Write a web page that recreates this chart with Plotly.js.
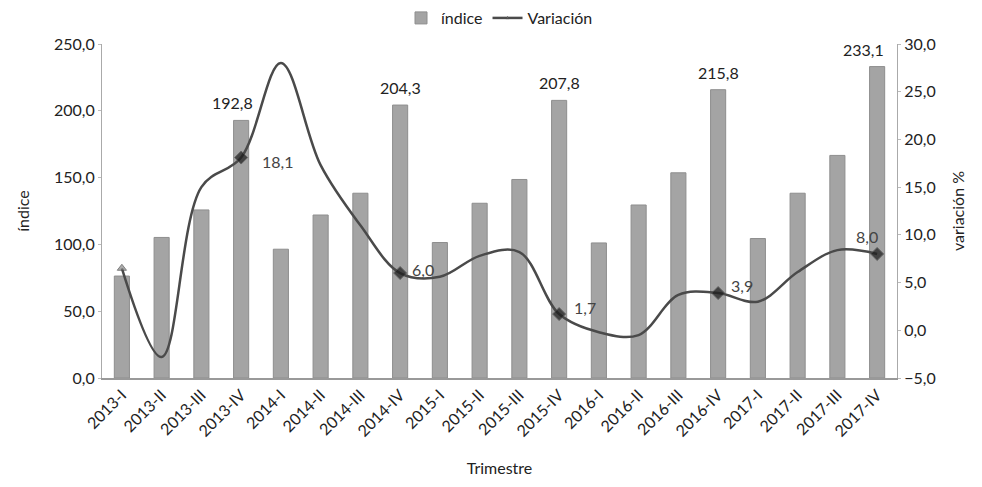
<!DOCTYPE html>
<html><head><meta charset="utf-8">
<script src="https://cdn.plot.ly/plotly-3.0.1.min.js"></script>
<style>html,body{margin:0;padding:0;background:#fff}#c{width:982px;height:487px}</style>
</head><body><div id="c"></div>
<script>
const trimestres = ["2013-I","2013-II","2013-III","2013-IV","2014-I","2014-II","2014-III","2014-IV","2015-I","2015-II","2015-III","2015-IV","2016-I","2016-II","2016-III","2016-IV","2017-I","2017-II","2017-III","2017-IV"];
const indice = [76.3,105.2,125.8,192.8,96.4,122.0,138.3,204.3,101.4,130.8,148.6,207.8,101.1,129.5,153.6,215.8,104.4,138.3,166.6,233.1];
const variacion = [6.5,-2.8,15.0,18.1,28.0,17.3,11.0,6.0,5.6,7.8,8.2,1.7,-0.2,-0.5,3.7,3.9,3.0,6.1,8.4,8.0];
const labelledIdx = [3,7,11,15,19];

const fontFam = "Lato, 'Open Sans', sans-serif";
const txt = '#222';

const markerSymbols = variacion.map((v,i)=> i===0 ? 'triangle-up' : (labelledIdx.includes(i) ? 'diamond' : 'circle'));
const markerSizes = variacion.map((v,i)=> i===0 ? 8 : (labelledIdx.includes(i) ? 10 : 0));
const markerColors = variacion.map((v,i)=> i===0 ? '#888' : '#1a1a1a');

const fmt = v => v.toFixed(1).replace('.', ',');

const barShift = {3:[-9,6],7:[0,6],11:[0,6],15:[0,6],19:[-14,6]};
const lineShift = {3:[36,-4],7:[23,4],11:[26,7],15:[24,8],19:[-10,17]};

const annotations = [];
labelledIdx.forEach(i=>{
  annotations.push({x:trimestres[i], y:indice[i], xref:'x', yref:'y', text:fmt(indice[i]), showarrow:false,
    yanchor:'bottom', xshift:barShift[i][0], yshift:barShift[i][1], font:{family:fontFam,size:16,color:txt}});
  annotations.push({x:trimestres[i], y:variacion[i], xref:'x', yref:'y2', text:fmt(variacion[i]), showarrow:false,
    xshift:lineShift[i][0], yshift:lineShift[i][1], font:{family:fontFam,size:16,color:'#444'}});
});

const data = [
  {type:'bar', name:'índice', x:trimestres, y:indice, yaxis:'y',
   marker:{color:'#a4a4a4', line:{color:'#8e8e8e', width:1}}, width:0.38, hoverinfo:'skip'},
  {type:'scatter', mode:'lines+markers', name:'Variación', x:trimestres, y:variacion, yaxis:'y2',
   line:{color:'#4a4a4a', width:2.5, shape:'spline', smoothing:1},
   marker:{symbol:markerSymbols, size:markerSizes, color:markerColors}}
];

const layout = {
  width:982, height:487,
  margin:{l:102, r:85, t:44, b:109, autoexpand:false},
  paper_bgcolor:'#fff', plot_bgcolor:'#fff',
  separators:',.',
  font:{family:fontFam, color:txt, size:16},
  showlegend:true,
  legend:{orientation:'h', x:0.5, xanchor:'center', y:0.963, yanchor:'middle', yref:'container', font:{size:16, color:txt}, itemwidth:30, traceorder:'normal'},
  xaxis:{type:'category', range:[-0.5,19.5], tickangle:-45, tickfont:{size:16, color:txt}, showline:true, linecolor:'#999', linewidth:1.5,
    ticks:'', showgrid:false, zeroline:false,
    title:{text:'Trimestre', font:{size:16, color:txt}, standoff:24}},
  yaxis:{range:[0,250], dtick:50, tickformat:'.1f', showgrid:false, zeroline:false, showline:true, linecolor:'#aaa', linewidth:1,
    ticks:'outside', ticklen:3, tickcolor:'#bbb', tickfont:{size:16, color:txt},
    title:{text:'índice', font:{size:16, color:txt}, standoff:20}},
  yaxis2:{overlaying:'y', side:'right', range:[-5,30], dtick:5, tickformat:'.1f', showgrid:false, zeroline:false,
    showline:true, linecolor:'#aaa', linewidth:1, ticks:'outside', ticklen:3, tickcolor:'#bbb', tickfont:{size:16, color:txt},
    title:{text:'variación %', font:{size:16, color:txt}, standoff:18}},
  annotations:annotations
};
Plotly.newPlot('c', data, layout, {displayModeBar:false, staticPlot:true});
</script></body></html>
